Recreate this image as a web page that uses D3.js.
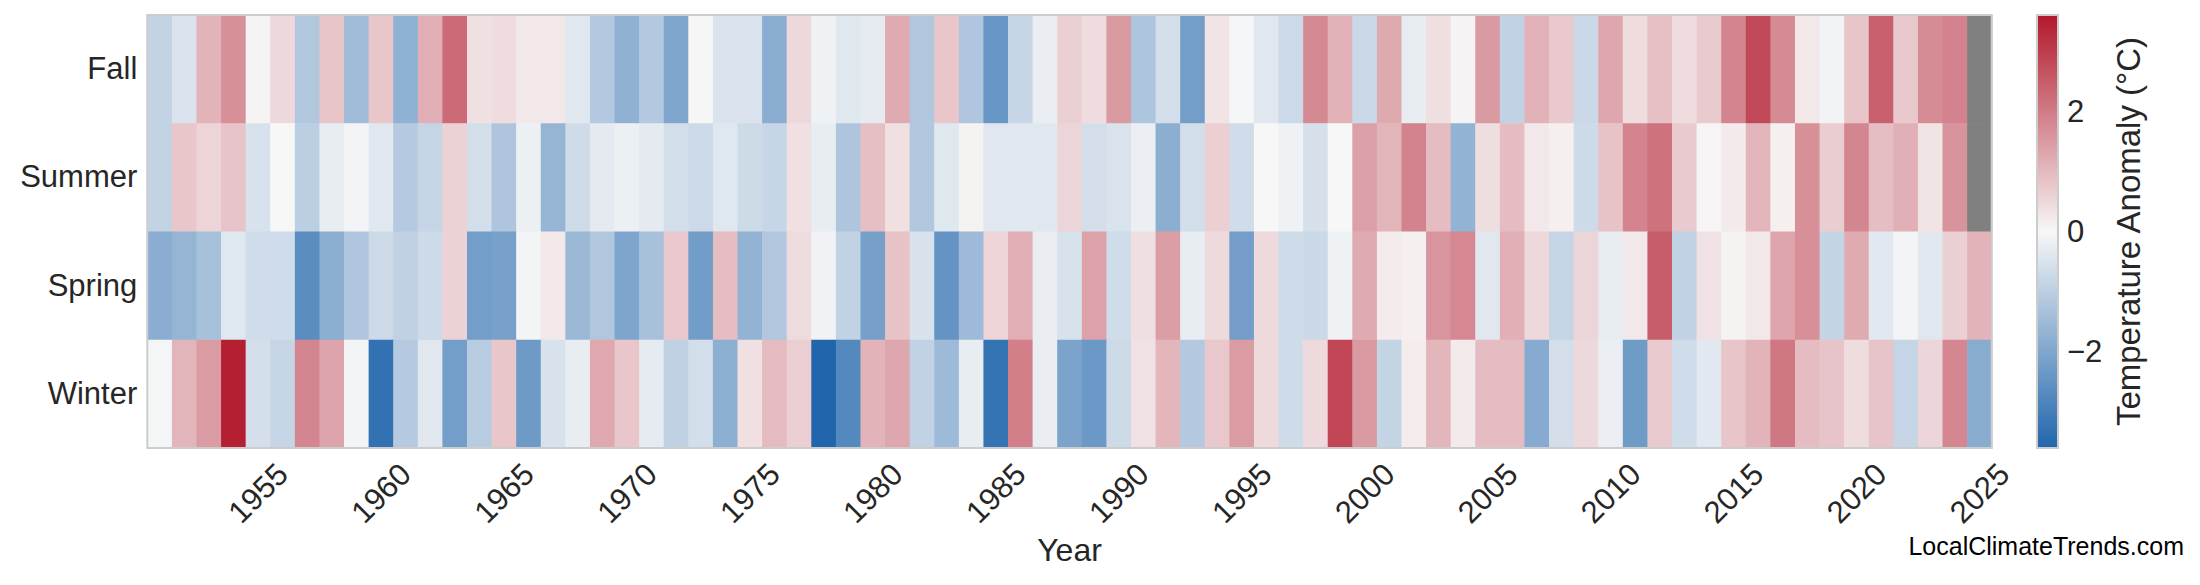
<!DOCTYPE html>
<html>
<head>
<meta charset="utf-8">
<script src="https://cdn.jsdelivr.net/npm/d3@7"></script>
<style>
  html, body { margin: 0; padding: 0; background: #ffffff; }
  svg { display: block; font-family: "Liberation Sans", Arial, sans-serif; }
</style>
</head>
<body>
<svg id="chart" width="2200" height="585"></svg>
<script>
// ---------------- data ----------------
const years = [1951,1952,1953,1954,1955,1956,1957,1958,1959,1960,
  1961,1962,1963,1964,1965,1966,1967,1968,1969,1970,
  1971,1972,1973,1974,1975,1976,1977,1978,1979,1980,
  1981,1982,1983,1984,1985,1986,1987,1988,1989,1990,
  1991,1992,1993,1994,1995,1996,1997,1998,1999,2000,
  2001,2002,2003,2004,2005,2006,2007,2008,2009,2010,
  2011,2012,2013,2014,2015,2016,2017,2018,2019,2020,
  2021,2022,2023,2024,2025];

const seasons = ["Fall", "Summer", "Spring", "Winter"];

const fall = [
  -0.89, -0.49, 1.10, 1.68, 0.06, 0.50, -1.18, 0.81, -1.46, 0.79,
  -1.75, 1.18, 2.26, 0.37, 0.44, 0.24, 0.24, -0.39, -1.14, -1.75,
  -1.14, -2.02, -0.02, -0.49, -0.49, -1.83, 0.50, -0.13, -0.40, -0.29,
  1.24, -1.18, 0.79, -1.21, -2.41, -0.82, -0.22, 0.63, 0.44, 1.50,
  -1.24, -0.62, -2.22, 0.31, -0.05, -0.39, -0.74, 1.76, 1.11, -0.76,
  1.26, -0.27, 0.39, 0.06, 1.50, -0.91, 1.11, 0.74, -0.76, 1.31,
  0.44, 0.89, 0.44, 0.71, 1.86, 2.82, 1.74, 0.24, -0.10, 0.81,
  2.44, 0.74, 1.73, 1.87, null];

const summer = [
  -0.89, 0.79, 0.56, 0.82, -0.52, 0.00, -0.99, -0.25, -0.08, -0.39,
  -1.11, -0.84, 0.60, -0.62, -1.23, -0.17, -1.63, -0.69, -0.32, -0.17,
  -0.32, -0.62, -0.74, -0.40, -0.71, -0.82, 0.37, -0.25, -1.23, 0.90,
  0.37, -1.18, -0.40, 0.08, -0.39, -0.39, -0.39, 0.55, -0.61, -0.50,
  -0.20, -1.82, -0.62, 0.65, -0.66, 0.00, -0.13, -0.57, 0.00, 1.39,
  1.07, 1.87, 0.95, -1.68, 0.40, 0.95, 0.24, 0.13, -0.71, 0.84,
  1.86, 2.15, 0.73, 0.05, 0.21, 1.07, 0.13, 1.68, 0.68, 1.82,
  0.92, 1.15, 0.31, 1.61, null];

const spring = [
  -1.83, -1.63, -1.33, -0.40, -0.66, -0.67, -2.62, -1.82, -1.21, -0.72,
  -0.94, -0.71, 0.60, -2.22, -2.14, -0.08, 0.24, -1.55, -1.18, -2.04,
  -1.35, 0.76, -2.24, 0.94, -1.70, -1.18, 0.45, -0.12, -0.91, -2.17,
  0.86, -0.52, -2.46, -1.51, 0.56, 1.18, -0.22, -0.52, 1.37, -0.67,
  0.39, 1.44, -0.25, 0.48, -2.20, 0.47, -0.69, -0.76, -0.13, 1.24,
  0.19, 0.13, 1.58, 1.79, -0.39, 1.16, 0.50, -0.84, 0.55, -0.27,
  0.24, 2.49, -0.91, 0.34, 0.08, 0.24, 1.32, 1.68, -0.86, 1.23,
  -0.37, -0.08, -0.39, 0.63, 1.10];

const winter = [
  -0.05, 1.07, 1.48, 3.49, -0.59, -0.84, 1.82, 1.34, -0.08, -3.30,
  -1.11, -0.39, -2.22, -1.08, 0.79, -2.30, -0.52, -0.25, 1.28, 0.79,
  -0.30, -0.94, -0.62, -1.80, 0.37, 0.97, 0.66, -3.60, -2.74, 1.08,
  1.31, -0.93, -1.51, -0.25, -3.26, 1.94, -0.22, -2.09, -2.35, -0.72,
  0.34, 1.05, -1.13, 0.76, 1.48, 0.47, -0.69, 0.47, 2.84, 1.50,
  -0.87, 0.18, 1.05, 0.21, 0.95, 0.95, -1.88, -0.61, 0.50, -0.20,
  -2.29, 0.73, -0.67, -0.37, 0.81, 1.10, 2.07, 0.95, 0.82, 0.44,
  0.82, -0.84, 0.55, 1.81, -1.87];

const xTickYears = [1955,1960,1965,1970,1975,1980,1985,1990,1995,2000,2005,2010,2015,2020,2025];
const cbarTicks = [-2, 0, 2];
const colorDomain = [-3.6, 0, 3.6];
const colorRange = ["#2166ac", "#f7f7f7", "#b2182b"];
const xLabel = "Year";
const cbarLabel = "Temperature Anomaly (°C)";
const credit = "LocalClimateTrends.com";

// ---------------- chart ----------------
(function () {
  const seriesBySeason = { Fall: fall, Summer: summer, Spring: spring, Winter: winter };
  const cells = [];
  seasons.forEach(s => {
    years.forEach((yr, i) => cells.push({ season: s, year: yr, value: seriesBySeason[s][i] }));
  });

  const svg = d3.select("#chart");
  svg.append("rect").attr("width", 2200).attr("height", 585).attr("fill", "#ffffff");

  const pL = 147.3, pR = 1991.7, pT = 15, pB = 448;
  const textColor = "#262626";
  const fontSize = 31;
  const ff = "'Liberation Sans', Arial, sans-serif";

  const x = d3.scaleBand().domain(years).range([pL, pR]).padding(0);
  const y = d3.scaleBand().domain(seasons).range([pT, pB]).padding(0);
  const color = d3.scaleLinear().domain(colorDomain).range(colorRange).clamp(true);

  svg.append("g")
    .selectAll("rect")
    .data(cells)
    .join("rect")
    .attr("x", d => x(d.year))
    .attr("y", d => y(d.season))
    .attr("width", x.bandwidth() + 0.6)
    .attr("height", y.bandwidth() + 0.6)
    .attr("fill", d => d.value === null ? "#808080" : color(d.value));

  // frame
  svg.append("rect")
    .attr("x", pL).attr("y", pT)
    .attr("width", pR - pL).attr("height", pB - pT)
    .attr("fill", "none").attr("stroke", "#cccccc").attr("stroke-width", 2);

  // x axis
  const xAxis = svg.append("g")
    .attr("transform", `translate(0,${pB})`)
    .call(d3.axisBottom(x).tickValues(xTickYears).tickSize(0).tickFormat(d3.format("d")));
  xAxis.select(".domain").remove();
  xAxis.selectAll("text")
    .attr("x", 0).attr("y", 45).attr("dy", "0.35em")
    .attr("text-anchor", "middle")
    .attr("transform", "rotate(-45,0,45)")
    .attr("fill", textColor)
    .style("font-size", fontSize + "px")
    .style("font-family", ff);

  // y axis
  const yAxis = svg.append("g")
    .attr("transform", `translate(${pL},0)`)
    .call(d3.axisLeft(y).tickSize(0).tickPadding(10));
  yAxis.select(".domain").remove();
  yAxis.selectAll("text")
    .attr("fill", textColor)
    .style("font-size", fontSize + "px")
    .style("font-family", ff);

  // x label
  svg.append("text")
    .attr("x", (pL + pR) / 2).attr("y", 561)
    .attr("text-anchor", "middle")
    .attr("fill", textColor)
    .style("font-size", "32px")
    .style("font-family", ff)
    .text(xLabel);

  // colorbar
  const cbX0 = 2037, cbX1 = 2058;
  const cScale = d3.scaleLinear().domain([colorDomain[0], colorDomain[2]]).range([pB, pT]);
  const defs = svg.append("defs");
  const grad = defs.append("linearGradient").attr("id", "cbgrad")
    .attr("x1", 0).attr("y1", 1).attr("x2", 0).attr("y2", 0);
  grad.selectAll("stop")
    .data(colorDomain)
    .join("stop")
    .attr("offset", d => (d - colorDomain[0]) / (colorDomain[2] - colorDomain[0]))
    .attr("stop-color", d => color(d));
  svg.append("rect")
    .attr("x", cbX0).attr("y", pT)
    .attr("width", cbX1 - cbX0).attr("height", pB - pT)
    .attr("fill", "url(#cbgrad)")
    .attr("stroke", "#cccccc").attr("stroke-width", 2);

  const cAxis = svg.append("g")
    .attr("transform", `translate(${cbX1},0)`)
    .call(d3.axisRight(cScale).tickValues(cbarTicks).tickSize(0).tickPadding(9));
  cAxis.select(".domain").remove();
  cAxis.selectAll("text")
    .attr("fill", textColor)
    .style("font-size", fontSize + "px")
    .style("font-family", ff);

  svg.append("text")
    .attr("transform", `translate(2128,${(pT + pB) / 2}) rotate(-90)`)
    .attr("text-anchor", "middle")
    .attr("dominant-baseline", "central")
    .attr("fill", textColor)
    .style("font-size", "33px")
    .style("font-family", ff)
    .text(cbarLabel);

  // credit
  svg.append("text")
    .attr("x", 2184).attr("y", 555)
    .attr("text-anchor", "end")
    .attr("fill", "#000000")
    .style("font-size", "25px")
    .style("font-family", ff)
    .text(credit);
})();
</script>
</body>
</html>
